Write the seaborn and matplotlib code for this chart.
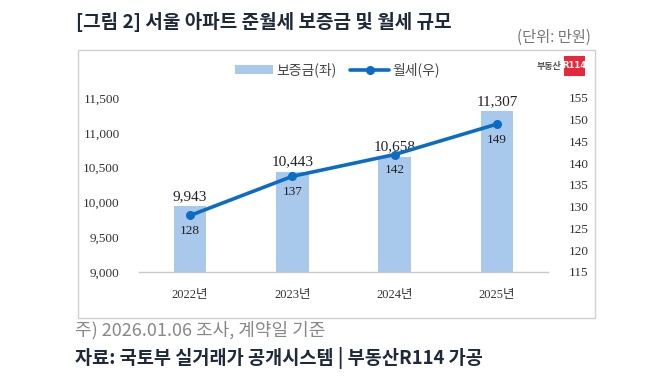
import matplotlib
matplotlib.use("Agg")
import matplotlib.pyplot as plt
import seaborn as sns
import numpy as np
import pandas as pd
from matplotlib.patches import Rectangle
from matplotlib.lines import Line2D
from matplotlib.ticker import FuncFormatter

years = ["2022년", "2023년", "2024년", "2025년"]
deposit = [9943, 10443, 10658, 11307]
rent = [128, 137, 142, 149]
left_ticks = [9000, 9500, 10000, 10500, 11000, 11500]
right_ticks = [115, 120, 125, 130, 135, 140, 145, 150, 155]

title = "[그림 2] 서울 아파트 준월세 보증금 및 월세 규모"
unit = "(단위: 만원)"
note = "주) 2026.01.06 조사, 계약일 기준"
source = "자료: 국토부 실거래가 공개시스템 | 부동산R114 가공"

sns.set_theme(style="white")
plt.rcParams['font.family'] = ['Noto Sans CJK KR', 'DejaVu Sans']

BAR = "#a8c9eb"
LINE = "#0b6cc3"
SERIF = ['Liberation Serif', 'Noto Sans CJK KR']

W, H = 671, 386
fig = plt.figure(figsize=(W / 100, H / 100), dpi=100)
fig.patch.set_facecolor("white")

def fx(px):
    return px / W

def fy(py):
    return 1 - py / H

# chart box
fig.patches.append(Rectangle((fx(78), fy(318)), fx(595) - fx(78), fy(50) - fy(318),
                             transform=fig.transFigure, fill=False,
                             edgecolor="#d0d0d0", linewidth=1.0))

ax = fig.add_axes([fx(139), fy(272), fx(548) - fx(139), fy(98) - fy(272)])
df = pd.DataFrame({"year": years, "deposit": deposit, "rent": rent})
sns.barplot(data=df, x="year", y="deposit", ax=ax, color=BAR, width=0.32,
            saturation=1, edgecolor="none")
ax.set_ylim(9000, 11500)
ax.set_xlim(-0.5, 3.5)
ax.set_yticks(left_ticks)
ax.yaxis.set_major_formatter(FuncFormatter(lambda v, p: f"{int(v):,}"))
ax.set_xlabel("")
ax.set_ylabel("")
for s in ["top", "right", "left"]:
    ax.spines[s].set_visible(False)
ax.spines["bottom"].set_color("#c8c8c8")
ax.spines["bottom"].set_linewidth(1.0)
ax.tick_params(axis="y", length=0, pad=14, labelsize=9.5, labelcolor="#333333")
ax.tick_params(axis="x", which="major", length=0, pad=12, labelsize=9, labelcolor="#333333")
ax.set_xticks(np.arange(-0.5, 4.0, 1.0), minor=True)
ax.tick_params(axis="x", which="minor", length=4, color="#c8c8c8", width=1, direction="out")
for lbl in ax.get_yticklabels():
    lbl.set_family(SERIF)
for lbl in ax.get_xticklabels():
    lbl.set_family(SERIF)

for i, v in enumerate(deposit):
    ax.text(i, v + 45, f"{v:,}", ha="center", va="bottom", fontsize=11,
            family=SERIF, color="#222222")

ax2 = ax.twinx()
sns.lineplot(x=np.arange(len(rent)), y=rent, ax=ax2, color=LINE, linewidth=2.6,
             marker="o", markersize=6.5, markeredgewidth=0, legend=False)
ax2.set_ylim(115, 155)
ax2.set_yticks(right_ticks)
for s in ["top", "right", "left", "bottom"]:
    ax2.spines[s].set_visible(False)
ax2.tick_params(axis="y", length=0, pad=15, labelsize=9.5, labelcolor="#333333")
for lbl in ax2.get_yticklabels():
    lbl.set_family(SERIF)
ax2.set_xlim(-0.5, 3.5)
for i, v in enumerate(rent):
    ax2.text(i, v - 2.2, f"{v}", ha="center", va="top", fontsize=9.5,
             family=SERIF, color="#222222")

# legend
handles = [Rectangle((0, 0), 1, 1, facecolor=BAR, edgecolor="none"),
           Line2D([0], [0], color=LINE, linewidth=2.6, marker="o", markersize=5.5)]
fig.legend(handles, ["보증금(좌)", "월세(우)"], loc="center",
           bbox_to_anchor=(fx(337), fy(70)), ncol=2, frameon=False,
           fontsize=10, labelcolor="#444444", handlelength=2.8, handleheight=0.6,
           columnspacing=1.0, handletextpad=0.2)

# logo
fig.text(fx(561), fy(66), "부동산", ha="right", va="center", fontsize=6.5,
         fontweight="bold", color="#555555")
fig.patches.append(Rectangle((fx(564), fy(76)), fx(585) - fx(564), fy(56) - fy(76),
                             transform=fig.transFigure, facecolor="#e8283a",
                             edgecolor="none"))
fig.text(fx(574.5), fy(66), "R114", ha="center", va="center", fontsize=6,
         fontweight="bold", color="white", family="DejaVu Sans")

# texts
fig.text(fx(76), fy(22), title, ha="left", va="center", fontsize=13.7,
         fontweight="bold", color="#1e2a3a")
fig.text(fx(591), fy(37), unit, ha="right", va="center", fontsize=11,
         color="#777777")
fig.text(fx(75), fy(330), note, ha="left", va="center", fontsize=13,
         color="#888888")
fig.text(fx(75), fy(358), source, ha="left", va="center", fontsize=13.4,
         fontweight="bold", color="#1e2a3a")

fig.savefig("out.png", dpi=100, facecolor="white")
